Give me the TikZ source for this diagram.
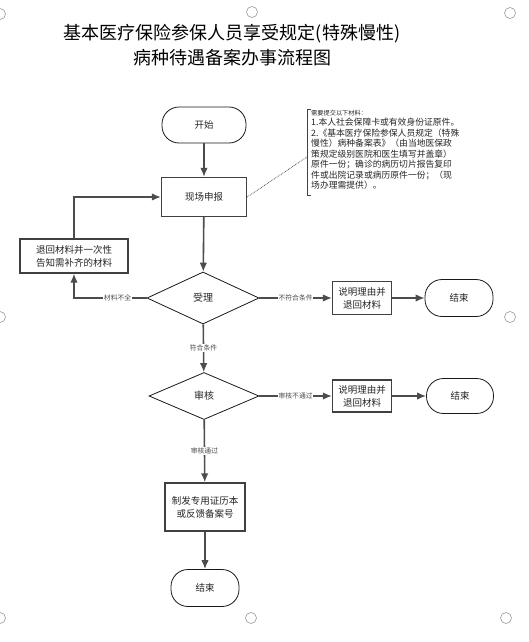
\documentclass[tikz,border=0pt]{standalone}
\usepackage{fontspec}
\setmainfont{Noto Sans CJK SC}
\usetikzlibrary{arrows,arrows.meta,shapes.geometric,calc}

\begin{document}
\begin{tikzpicture}[x=1pt,y=-1pt,
  conn/.style={draw=black!70, line width=1.6pt, -{Latex[length=9pt,width=7.5pt]}},
  procbox/.style={draw=black!75, line width=1.3pt, fill=white, align=center, inner sep=1pt, text=black!85, font=\fontsize{9.5}{13}\selectfont},
  termbox/.style={draw=black!90, line width=0.8pt, fill=white, rounded corners=17pt, text=black!85, font=\fontsize{9.5}{12}\selectfont},
  decide/.style={diamond, draw=black!90, line width=0.8pt, fill=white, inner sep=0pt, text=black!85, font=\fontsize{10}{12}\selectfont},
  lbl/.style={fill=white, inner sep=0.8pt, text=black!70, font=\fontsize{6.8}{8}\selectfont},
  handle/.style={draw=black!40, line width=0.6pt}]
  \useasboundingbox (0,0) rectangle (528,642);
  % Title
  \node[align=center, font=\fontsize{18}{25}\selectfont] (title) at (232,45)
    {基本医疗保险参保人员享受规定(特殊慢性)\\病种待遇备案办事流程图};
  % Nodes
  \node[termbox, minimum width=84pt, minimum height=36pt] (start) at (204,125) {开始};
  \node[procbox, minimum width=85pt, minimum height=39pt] (report) at (204,197) {现场申报};
  \node[procbox, minimum width=108pt, minimum height=34pt] (back) at (74,256) {退回材料并一次性\\告知需补齐的材料};
  \node[decide, minimum width=112pt, minimum height=52pt] (accept) at (203,298) {受理};
  \node[procbox, minimum width=59pt, minimum height=33pt] (reason1) at (362,298) {说明理由并\\退回材料};
  \node[termbox, minimum width=68pt, minimum height=37pt] (end1) at (459,298) {结束};
  \node[decide, minimum width=110pt, minimum height=47pt] (audit) at (204,396) {审核};
  \node[procbox, minimum width=59pt, minimum height=32pt] (reason2) at (362,396) {说明理由并\\退回材料};
  \node[termbox, minimum width=67pt, minimum height=35pt] (end2) at (460,396) {结束};
  \node[procbox, minimum width=80pt, minimum height=48pt] (issue) at (205,507) {制发专用证历本\\或反馈备案号};
  \node[termbox, minimum width=68pt, minimum height=37pt] (end3) at (205,588) {结束};
  % Note
  \draw[black!75, line width=0.9pt] (311,109) -- (307,109) -- (307,195) -- (311,195);
  \coordinate (notept) at (307,157);
  \node[anchor=north west, align=left, inner sep=0pt, text=black!85, font=\fontsize{8.8}{10.5}\selectfont] (note) at (311,110)
    {{\fontsize{6.2}{8}\selectfont 需要提交以下材料：}\\
     1.本人社会保障卡或有效身份证原件。\\
     2.《基本医疗保险参保人员规定（特殊\\
     慢性）病种备案表》（由当地医保政\\
     策规定级别医院和医生填写并盖章）\\
     原件一份；确诊的病历切片报告复印\\
     件或出院记录或病历原件一份；（现\\
     场办理需提供）。};
  \draw[densely dotted, black!80, line width=0.7pt] (report.east) -- (notept);
  % Connectors
  \draw[conn] (start) -- (report);
  \draw[conn] (report) -- (accept);
  \draw[conn] (accept.west) -| node[lbl, pos=0.2] {材料不全} (back.south);
  \draw[conn] (back.north) |- (report.west);
  \draw[conn] (accept) -- node[lbl] {不符合条件} (reason1);
  \draw[conn] (reason1) -- (end1);
  \draw[conn] (accept) -- node[lbl] {符合条件} (audit);
  \draw[conn] (audit) -- node[lbl] {审核不通过} (reason2);
  \draw[conn] (reason2) -- (end2);
  \draw[conn] (audit) -- node[lbl] {审核通过} (issue);
  \draw[conn] (issue) -- (end3);
  % Page handles
  \foreach \hx/\hy in {0/14, 252/12, 510/13, 0/317, 510/317, 0/618, 251/618, 506/618}
    \draw[handle] (\hx,\hy) circle (5.5pt);
\end{tikzpicture}
\end{document}
